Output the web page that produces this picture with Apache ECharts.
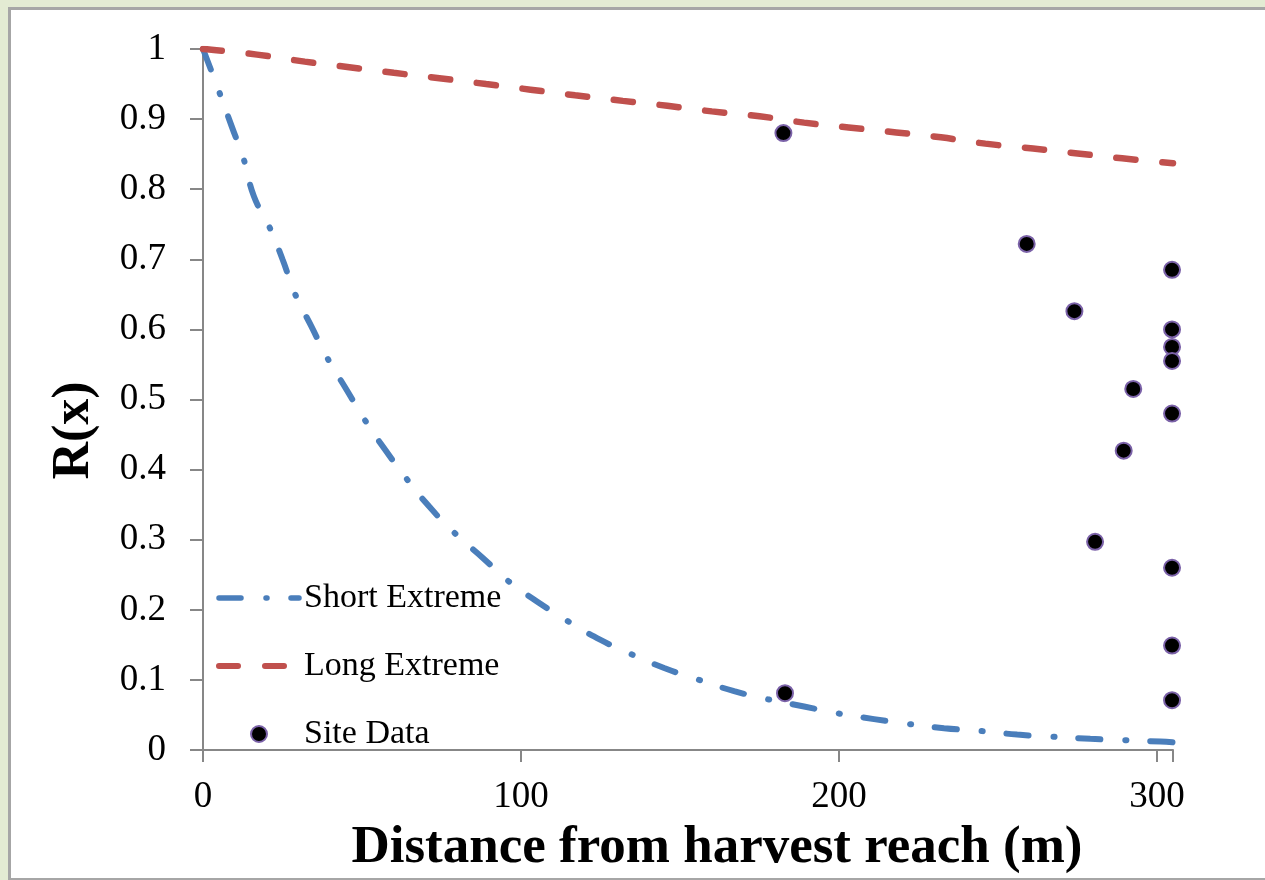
<!DOCTYPE html>
<html>
<head>
<meta charset="utf-8">
<title>R(x) vs distance</title>
<script src="https://cdn.jsdelivr.net/npm/echarts@6/dist/echarts.min.js"></script>
<style>
  html, body { margin: 0; padding: 0; background: #e3ebd3; }
  #panel {
    position: absolute; left: 8px; top: 7px; width: 1300px; height: 868px;
    background: #ffffff; border: 3px solid #a6a6a6;
  }
  #main { position: absolute; left: 0; top: 0; width: 1265px; height: 880px; }
</style>
</head>
<body>
<div id="panel"></div>
<div id="main"></div>
<script>
// short extreme curve
var shortX = [0, 5, 9, 13, 16, 21, 25, 29, 34, 39, 45, 51, 57, 64, 71, 79, 88, 96, 105, 115, 125, 135, 145, 156, 167, 178, 189, 200, 211, 222, 233, 245, 256, 267, 279, 290, 301, 305];
var shortY = [1, 0.94, 0.89, 0.84, 0.79, 0.745, 0.70, 0.65, 0.605, 0.56, 0.515, 0.47, 0.43, 0.387, 0.348, 0.31, 0.274, 0.241, 0.212, 0.183, 0.157, 0.136, 0.117, 0.100, 0.084, 0.072, 0.062, 0.052, 0.044, 0.037, 0.031, 0.027, 0.022, 0.019, 0.016, 0.014, 0.012, 0.011];

// long extreme curve
var longX = [0, 17, 32, 46, 60, 75, 89, 103, 117, 132, 146, 160, 175, 189, 203, 218, 232, 246, 261, 275, 289, 305];
var longY = [1, 0.992, 0.982, 0.974, 0.966, 0.958, 0.950, 0.942, 0.934, 0.926, 0.919, 0.911, 0.904, 0.895, 0.888, 0.881, 0.874, 0.865, 0.858, 0.851, 0.844, 0.837];

// site data
var siteX = [182.5, 183, 259, 274, 280.5, 289.5, 292.5, 304.7, 304.7, 304.7, 304.7, 304.7, 304.7, 304.7, 304.7];
var siteY = [0.88, 0.081, 0.722, 0.626, 0.297, 0.427, 0.515, 0.685, 0.600, 0.575, 0.555, 0.480, 0.260, 0.149, 0.071];

var xTicks = [0, 100, 200, 300];

function pairs(xs, ys) {
  var out = [];
  for (var i = 0; i < xs.length; i++) out.push([xs[i], ys[i]]);
  return out;
}

var serif = '"Liberation Serif", "Times New Roman", serif';
var axisGray = '#878787';
var blue = '#4a7ebb';
var red = '#c0504d';
var shortDash = [22, 25, 1, 24];
var longDash = [19, 27];

var myChart = echarts.init(document.getElementById('main'));
myChart.setOption({
  animation: false,
  grid: { left: 203, right: 92, top: 49, bottom: 130 },
  legend: {
    orient: 'vertical',
    left: 216,
    top: 581,
    padding: 0,
    itemWidth: 80,
    itemHeight: 16,
    itemGap: 34,
    textStyle: { fontFamily: serif, fontSize: 34, color: '#000' },
    data: [
      { name: 'Short Extreme', itemStyle: { opacity: 0 }, lineStyle: { color: blue, width: 5.5, type: shortDash, cap: 'round' } },
      { name: 'Long Extreme', itemStyle: { opacity: 0 }, lineStyle: { color: red, width: 6, type: longDash, cap: 'round' } },
      { name: 'Site Data' }
    ]
  },
  xAxis: {
    type: 'value',
    min: 0,
    max: 305,
    interval: 100,
    name: 'Distance from harvest reach (m)',
    nameLocation: 'middle',
    nameGap: 72,
    nameTextStyle: { fontFamily: serif, fontSize: 53, fontWeight: 'bold', color: '#000', padding: [0, 0, 0, 58] },
    axisLine: { lineStyle: { color: axisGray, width: 2 } },
    axisTick: { length: 12, lineStyle: { color: axisGray, width: 2 } },
    axisLabel: {
      margin: 29, fontFamily: serif, fontSize: 37, color: '#000',
      formatter: function (v) { return xTicks.indexOf(v) >= 0 ? String(v) : ''; }
    },
    splitLine: { show: false }
  },
  yAxis: {
    type: 'value',
    min: 0,
    max: 1,
    interval: 0.1,
    name: 'R(x)',
    nameLocation: 'middle',
    nameRotate: 90,
    nameGap: 102,
    nameTextStyle: { fontFamily: serif, fontSize: 52, fontWeight: 'bold', color: '#000', padding: [0, 62, 0, 0] },
    axisLine: { show: true, lineStyle: { color: axisGray, width: 2 } },
    axisTick: { show: true, length: 13, lineStyle: { color: axisGray, width: 2 } },
    axisLabel: { margin: 37, fontFamily: serif, fontSize: 37, color: '#000' },
    splitLine: { show: false }
  },
  series: [
    {
      name: 'Short Extreme',
      type: 'line',
      data: pairs(shortX, shortY),
      smooth: true,
      symbol: 'none',
      lineStyle: { color: blue, width: 6, type: shortDash, cap: 'round' },
      itemStyle: { color: blue },
      z: 2
    },
    {
      name: 'Long Extreme',
      type: 'line',
      data: pairs(longX, longY),
      smooth: true,
      symbol: 'none',
      lineStyle: { color: red, width: 6.5, type: longDash, cap: 'round' },
      itemStyle: { color: red },
      z: 2
    },
    {
      name: 'Site Data',
      type: 'scatter',
      data: pairs(siteX, siteY),
      symbol: 'circle',
      symbolSize: 16,
      itemStyle: { color: '#000000', borderColor: '#7b62a8', borderWidth: 2, opacity: 1 },
      z: 3
    }
  ]
});
</script>
</body>
</html>
